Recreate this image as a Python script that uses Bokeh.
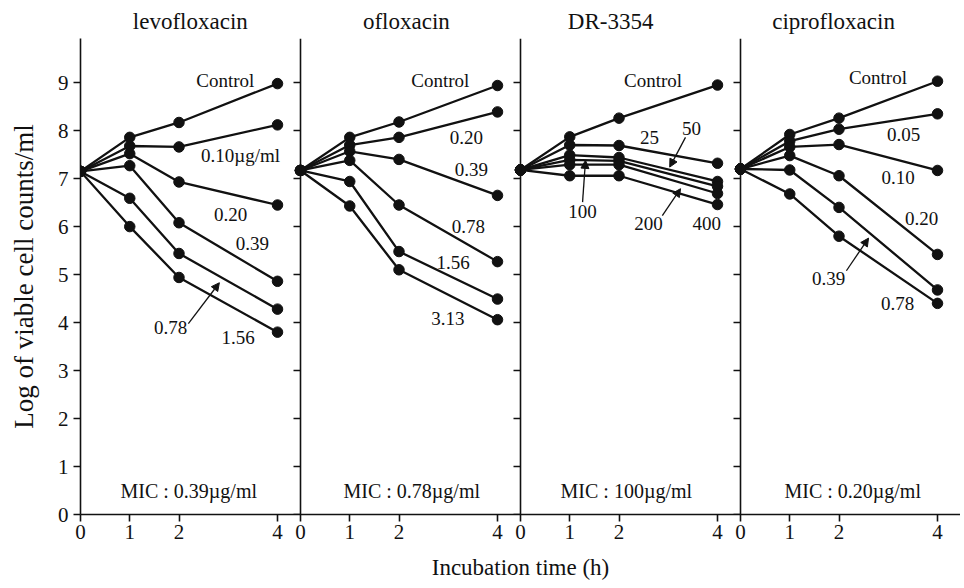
from bokeh.plotting import figure
from bokeh.models import Range1d, LinearAxis, FixedTicker, Label, Arrow, NormalHead
from bokeh.embed import file_html
from bokeh.resources import INLINE

# ---------------- data ----------------
times = [0, 1, 2, 4]
x_tick_values = [0, 1, 2, 4]
y_tick_values = [0, 1, 2, 3, 4, 5, 6, 7, 8, 9]

drugs = ["levofloxacin", "ofloxacin", "DR-3354", "ciprofloxacin"]
mic_texts = ["MIC  :  0.39µg/ml", "MIC  :  0.78µg/ml", "MIC  :  100µg/ml", "MIC  :  0.20µg/ml"]

levofloxacin_series = {
    "Control": [7.15, 7.86, 8.17, 8.98],
    "0.10": [7.15, 7.68, 7.66, 8.12],
    "0.20": [7.15, 7.52, 6.93, 6.45],
    "0.39": [7.15, 7.27, 6.08, 4.86],
    "0.78": [7.15, 6.59, 5.44, 4.28],
    "1.56": [7.15, 6.00, 4.94, 3.80],
}
ofloxacin_series = {
    "Control": [7.17, 7.86, 8.18, 8.94],
    "0.20": [7.17, 7.70, 7.86, 8.39],
    "0.39": [7.17, 7.57, 7.40, 6.65],
    "0.78": [7.17, 7.38, 6.45, 5.27],
    "1.56": [7.17, 6.94, 5.48, 4.49],
    "3.13": [7.17, 6.43, 5.10, 4.06],
}
dr3354_series = {
    "Control": [7.18, 7.87, 8.26, 8.95],
    "25": [7.18, 7.70, 7.69, 7.32],
    "50": [7.18, 7.49, 7.44, 6.94],
    "100": [7.18, 7.39, 7.37, 6.84],
    "200": [7.18, 7.29, 7.29, 6.69],
    "400": [7.18, 7.06, 7.06, 6.46],
}
ciprofloxacin_series = {
    "Control": [7.20, 7.92, 8.26, 9.03],
    "0.05": [7.20, 7.78, 8.03, 8.35],
    "0.10": [7.20, 7.66, 7.71, 7.17],
    "0.20": [7.20, 7.48, 7.06, 5.42],
    "0.39": [7.20, 7.18, 6.40, 4.68],
    "0.78": [7.20, 6.68, 5.80, 4.40],
}
panel_series = [levofloxacin_series, ofloxacin_series, dr3354_series, ciprofloxacin_series]

# curve annotations (text, x, y) in each panel's own data coordinates
panel_labels = [
    [("Control", 2.94, 9.04), ("0.10µg/ml", 3.25, 7.48), ("0.20", 3.05, 6.26),
     ("0.39", 3.49, 5.64), ("0.78", 1.83, 3.90), ("1.56", 3.20, 3.69)],
    [("Control", 2.84, 9.04), ("0.20", 3.37, 7.86), ("0.39", 3.47, 7.18),
     ("0.78", 3.41, 6.00), ("1.56", 3.10, 5.26), ("3.13", 2.99, 4.08)],
    [("Control", 2.69, 9.05), ("25", 2.62, 7.86), ("50", 3.47, 8.04),
     ("100", 1.26, 6.32), ("200", 2.60, 6.06), ("400", 3.78, 6.06)],
    [("Control", 2.79, 9.10), ("0.05", 3.31, 7.92), ("0.10", 3.20, 7.03),
     ("0.20", 3.68, 6.16), ("0.39", 1.79, 4.92), ("0.78", 3.19, 4.40)],
]
panel_arrows = [
    [(2.19, 3.98, 2.82, 4.83)],
    [],
    [(3.35, 7.86, 3.03, 7.24), (1.26, 6.51, 1.32, 7.38), (2.88, 6.23, 3.25, 6.79)],
    [(2.15, 5.08, 2.60, 5.76)],
]
title_x = [2.23, 2.15, 1.83, 1.89]
mic_pos = [(2.30, 0.50), (2.36, 0.50), (2.25, 0.50), (2.38, 0.50)]

# ---------------- layout ----------------
FONT = "Liberation Serif"
W = 4.467          # width of one panel in data units
Y_TOP = 9.92
INK = "#111111"

p = figure(width=960, height=587,
           x_range=Range1d(0, 4 * W), y_range=Range1d(0, Y_TOP),
           x_axis_type=None, y_axis_type=None,
           output_backend="svg", toolbar_location=None,
           min_border_left=80, min_border_right=0,
           min_border_top=38, min_border_bottom=73)
p.outline_line_color = None
p.background_fill_color = "white"
p.border_fill_color = "white"

range_names = ["default", "p1", "p2", "p3"]
for k in range(1, 4):
    p.extra_x_ranges[f"p{k}"] = Range1d(-k * W, (4 - k) * W)


def style_axis(ax):
    ax.axis_line_color = INK
    ax.axis_line_width = 1.6
    ax.major_tick_line_color = INK
    ax.major_tick_line_width = 1.6
    ax.major_tick_in = 0
    ax.major_tick_out = 7
    ax.minor_tick_in = 0
    ax.minor_tick_out = 0
    ax.major_label_text_font = FONT
    ax.major_label_text_font_size = "21px"
    ax.major_label_text_color = INK
    ax.axis_label_text_font = FONT
    ax.axis_label_text_font_style = "normal"
    ax.axis_label_text_color = INK


# y axis of panel 1
yax = LinearAxis(ticker=FixedTicker(ticks=y_tick_values),
                 axis_label="Log of viable cell counts/ml")
style_axis(yax)
yax.axis_label_text_font_size = "27px"
yax.axis_label_standoff = 16
p.add_layout(yax, "left")

# shared x axis: ticks 0,1,2,4 repeated under every panel
x_ticks_all = []
x_overrides = {}
for k in range(4):
    for t in x_tick_values:
        pos = round(k * W + t, 4)
        x_ticks_all.append(pos)
        x_overrides[pos] = str(t)
xax = LinearAxis(ticker=FixedTicker(ticks=x_ticks_all),
                 major_label_overrides=x_overrides,
                 axis_label="Incubation time (h)")
style_axis(xax)
xax.major_label_standoff = 3
xax.axis_label_text_font_size = "23px"
xax.axis_label_standoff = 13
p.add_layout(xax, "below")

# panel titles as labels of a bare axis above the frame
title_ticks = [round(k * W + title_x[k], 4) for k in range(4)]
tax = LinearAxis(ticker=FixedTicker(ticks=title_ticks),
                 major_label_overrides={title_ticks[k]: drugs[k] for k in range(4)})
style_axis(tax)
tax.axis_line_color = None
tax.major_tick_line_color = None
tax.major_tick_out = 0
tax.major_label_standoff = 5
tax.major_label_text_font_size = "23px"
p.add_layout(tax, "above")

# panel 2-4 y axes, fixed at each panel's origin
for k in range(1, 4):
    ya = LinearAxis(x_range_name=f"p{k}", fixed_location=0,
                    ticker=FixedTicker(ticks=y_tick_values),
                    major_label_overrides={t: "" for t in y_tick_values})
    style_axis(ya)
    p.add_layout(ya, "left")

for k in range(4):
    rn = range_names[k]
    for name, vals in panel_series[k].items():
        p.line(times, vals, x_range_name=rn, line_color=INK, line_width=2.3)
        p.scatter(times, vals, x_range_name=rn, size=10.5,
                  fill_color=INK, line_color=INK)
    for text, lx, ly in panel_labels[k]:
        p.add_layout(Label(x=lx, y=ly, text=text, x_range_name=rn,
                           text_font=FONT, text_font_size="19px",
                           text_color=INK, text_align="center",
                           text_baseline="middle"))
    for x0, y0, x1, y1 in panel_arrows[k]:
        p.add_layout(Arrow(x_start=x0, y_start=y0, x_end=x1, y_end=y1,
                           x_range_name=rn, line_color=INK, line_width=1.3,
                           end=NormalHead(size=8, fill_color=INK,
                                          line_color=INK, line_width=1)))
    mx, my = mic_pos[k]
    p.add_layout(Label(x=mx, y=my, text=mic_texts[k], x_range_name=rn,
                       text_font=FONT, text_font_size="20px",
                       text_color=INK, text_align="center",
                       text_baseline="middle"))

open("out.html", "w").write(file_html(p, INLINE))
